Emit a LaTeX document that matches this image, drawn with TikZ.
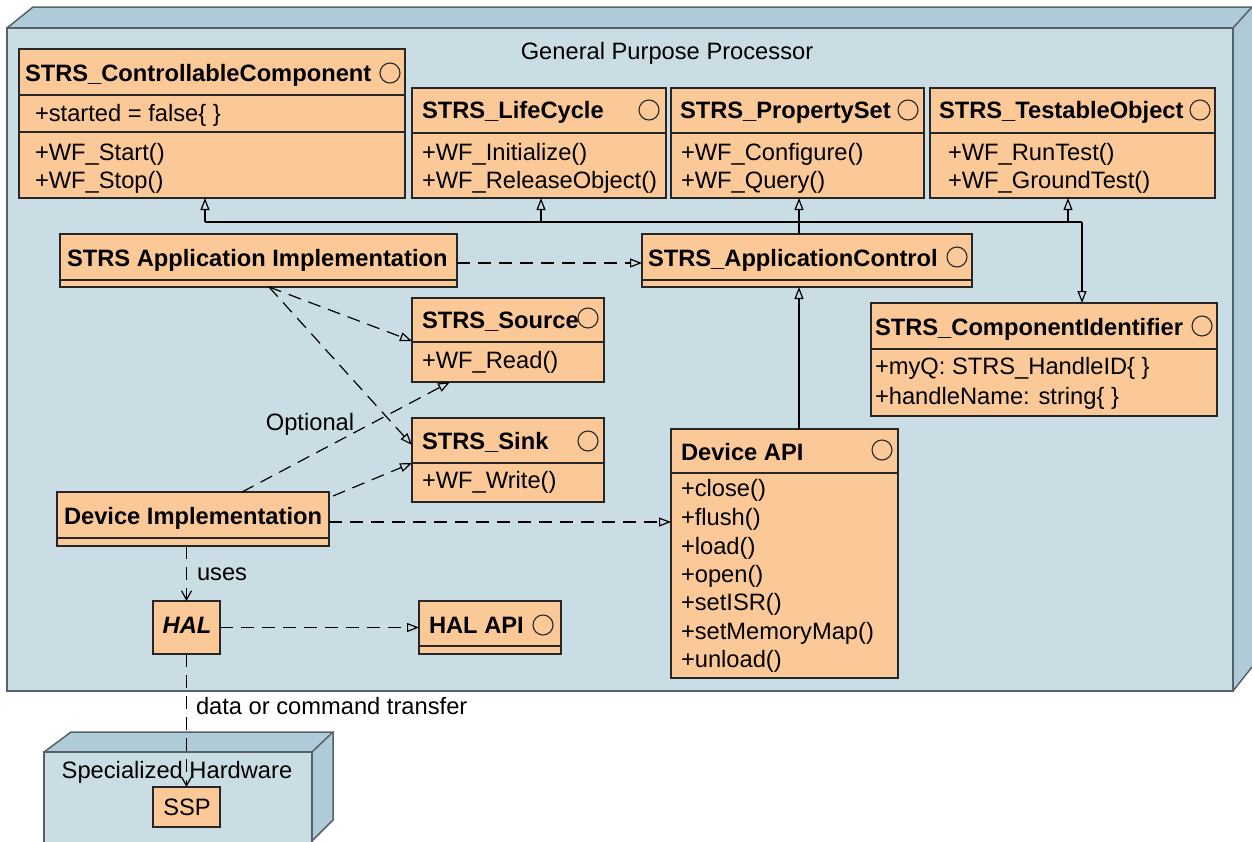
\documentclass[tikz,border=0pt]{standalone}
\usepackage{fontspec}
\setmainfont{Liberation Sans}
\usetikzlibrary{arrows.meta,calc}
\definecolor{peach}{HTML}{FBC998}
\definecolor{front}{HTML}{CADDE5}
\definecolor{side}{HTML}{AFCBD7}
\definecolor{edge}{HTML}{56626A}
\definecolor{ink}{HTML}{262626}
\begin{document}
\begin{tikzpicture}[x=1pt,y=-1pt,
  every node/.style={font=\fontsize{23.7}{28}\selectfont, inner sep=0pt, outer sep=0pt},
  cls/.style={draw=ink, fill=peach, line width=1.3pt, rectangle, anchor=north west},
  sepline/.style={draw=ink, line width=1.2pt},
  ttl/.style={anchor=base west, font=\fontsize{23.7}{28}\selectfont\bfseries},
  itm/.style={anchor=base west},
  ico/.style={circle, draw=ink, line width=1.1pt, minimum size=20pt},
  conn/.style={draw=black, line width=1.2pt},
  gen/.style={conn, -{Triangle[open,length=12pt,width=9pt]}},
  real/.style={gen, dash pattern=on 13pt off 8pt},
  dep/.style={conn, dash pattern=on 13pt off 8pt, -{Straight Barb[length=9pt,width=10pt]}},
  cont/.style={draw=edge, line width=1.5pt},
]
\useasboundingbox (0,0) rectangle (1252,841);
\clip (0,0) rectangle (1252,841);
% General Purpose Processor node
\fill[side] (7,28) -- (33,7) -- (1260,7) -- (1233,28) -- cycle;
\fill[side] (1233,28) -- (1252,7) -- (1260,7) -- (1260,660) -- (1252,667) -- (1233,691) -- cycle;
\draw[cont] (7,28) -- (33,7) -- (1260,7);
\draw[cont] (1233,28) -- (1252,7);
\draw[cont] (1233,691) -- (1252,667);
\filldraw[cont, fill=front] (7,28) rectangle (1233,691);
\node[anchor=base] (gpp) at (667,59) {General Purpose Processor};
% Specialized Hardware node
\fill[side] (44,752) -- (71,732) -- (333,732) -- (312,752) -- cycle;
\fill[side] (312,752) -- (333,732) -- (333,820) -- (312,841) -- cycle;
\draw[cont] (44,752) -- (71,732) -- (333,732) -- (312,752);
\draw[cont] (333,732) -- (333,820) -- (312,841);
\filldraw[cont, fill=front] (44,752) rectangle (312,860);
\node[anchor=base] (shw) at (177,778) {Specialized Hardware};

% STRS_ControllableComponent
\node[cls, minimum width=386pt, minimum height=149pt] (cc) at (19,49) {};
\draw[sepline] ($(cc.north west)+(0,46)$) -- ($(cc.north east)+(0,46)$);
\draw[sepline] ($(cc.north west)+(0,83)$) -- ($(cc.north east)+(0,83)$);
\node[ttl] (cc-t) at (25,81) {STRS\_ControllableComponent};
\node[ico] (cc-c) at (390,73) {};
\node[itm] (cc-a1) at (35,121) {+started = false\{ \}};
\node[itm] (cc-o1) at (35,160) {+WF\_Start()};
\node[itm] (cc-o2) at (35,188) {+WF\_Stop()};

% STRS_LifeCycle
\node[cls, minimum width=254pt, minimum height=110pt] (lc) at (412,88) {};
\draw[sepline] ($(lc.north west)+(0,45)$) -- ($(lc.north east)+(0,45)$);
\node[ttl] (lc-t) at (422,118) {STRS\_LifeCycle};
\node[ico] (lc-c) at (649,110) {};
\node[itm] (lc-o1) at (422,160) {+WF\_Initialize()};
\node[itm] (lc-o2) at (422,188) {+WF\_ReleaseObject()};

% STRS_PropertySet
\node[cls, minimum width=253pt, minimum height=110pt] (ps) at (671,88) {};
\draw[sepline] ($(ps.north west)+(0,45)$) -- ($(ps.north east)+(0,45)$);
\node[ttl] (ps-t) at (680,118) {STRS\_PropertySet};
\node[ico] (ps-c) at (908,110) {};
\node[itm] (ps-o1) at (681,160) {+WF\_Configure()};
\node[itm] (ps-o2) at (681,188) {+WF\_Query()};

% STRS_TestableObject
\node[cls, minimum width=285pt, minimum height=110pt] (to) at (930,88) {};
\draw[sepline] ($(to.north west)+(0,45)$) -- ($(to.north east)+(0,45)$);
\node[ttl] (to-t) at (939,118) {STRS\_TestableObject};
\node[ico] (to-c) at (1200,110) {};
\node[itm] (to-o1) at (948,160) {+WF\_RunTest()};
\node[itm] (to-o2) at (948,188) {+WF\_GroundTest()};

% STRS Application Implementation
\node[cls, minimum width=397pt, minimum height=53pt] (ai) at (60,234) {};
\draw[sepline] ($(ai.north west)+(0,46)$) -- ($(ai.north east)+(0,46)$);
\node[ttl] (ai-t) at (67,266) {STRS Application Implementation};

% STRS_ApplicationControl
\node[cls, minimum width=330pt, minimum height=53pt] (ac) at (642,234) {};
\draw[sepline] ($(ac.north west)+(0,46)$) -- ($(ac.north east)+(0,46)$);
\node[ttl] (ac-t) at (648,266) {STRS\_ApplicationControl};
\node[ico] (ac-c) at (957,257) {};

% STRS_Source
\node[cls, minimum width=192pt, minimum height=84pt] (src) at (412,298) {};
\draw[sepline] ($(src.north west)+(0,44)$) -- ($(src.north east)+(0,44)$);
\node[ttl] (src-t) at (422,328) {STRS\_Source};
\node[ico] (src-c) at (588,318) {};
\node[itm] (src-o1) at (422,368) {+WF\_Read()};

% STRS_Sink
\node[cls, minimum width=192pt, minimum height=84pt] (sink) at (412,418) {};
\draw[sepline] ($(sink.north west)+(0,45)$) -- ($(sink.north east)+(0,45)$);
\node[ttl] (sink-t) at (422,449) {STRS\_Sink};
\node[ico] (sink-c) at (588,441) {};
\node[itm] (sink-o1) at (422,488) {+WF\_Write()};

% STRS_ComponentIdentifier
\node[cls, minimum width=346pt, minimum height=113pt] (ci) at (871,303) {};
\draw[sepline] ($(ci.north west)+(0,46)$) -- ($(ci.north east)+(0,46)$);
\node[ttl] (ci-t) at (875,335) {STRS\_ComponentIdentifier};
\node[ico] (ci-c) at (1202,326) {};
\node[itm] (ci-a1) at (875,374) {+myQ: STRS\_HandleID\{ \}};
\node[itm] (ci-a2) at (875,404) {+handleName: string\{ \}};

% Device API
\node[cls, minimum width=227pt, minimum height=249pt] (dapi) at (671,429) {};
\draw[sepline] ($(dapi.north west)+(0,44)$) -- ($(dapi.north east)+(0,44)$);
\node[ttl] (dapi-t) at (681,460) {Device API};
\node[ico] (dapi-c) at (882,450) {};
\node[itm] (dapi-o1) at (681,496) {+close()};
\node[itm] (dapi-o2) at (681,525) {+flush()};
\node[itm] (dapi-o3) at (681,554) {+load()};
\node[itm] (dapi-o4) at (681,582) {+open()};
\node[itm] (dapi-o5) at (681,610) {+setISR()};
\node[itm] (dapi-o6) at (681,639) {+setMemoryMap()};
\node[itm] (dapi-o7) at (681,667) {+unload()};

% Device Implementation
\node[cls, minimum width=272pt, minimum height=54pt] (di) at (57,492) {};
\draw[sepline] ($(di.north west)+(0,46)$) -- ($(di.north east)+(0,46)$);
\node[ttl] (di-t) at (64,524) {Device Implementation};

% HAL
\node[cls, minimum width=67pt, minimum height=53pt] (hal) at (153,601) {};
\node[anchor=base, font=\fontsize{23.7}{28}\selectfont\bfseries\itshape] (hal-t) at (187,633) {HAL};

% HAL API
\node[cls, minimum width=142pt, minimum height=53pt] (halapi) at (419,601) {};
\draw[sepline] ($(halapi.north west)+(0,45)$) -- ($(halapi.north east)+(0,45)$);
\node[ttl] (halapi-t) at (429,633) {HAL API};
\node[ico] (halapi-c) at (543,625) {};

% SSP
\node[cls, minimum width=67pt, minimum height=40pt] (ssp) at (153,787) {};
\node[anchor=base] (ssp-t) at (187,815) {SSP};

% ---- connectors ----
\coordinate (busL) at ($(cc.south west)+(186,24)$);
\coordinate (busR) at ($(ci.north west)+(211,-81)$);
\draw[conn] (busL) -- (busR);
\draw[gen] (busR) -- (busR |- ci.north);
\draw[gen] (busL) -- (busL |- cc.south);
\coordinate (lcx) at ($(lc.south west)+(129,0)$);
\draw[gen] (lcx |- busL) -- (lcx);
\coordinate (tox) at ($(to.south west)+(138,0)$);
\draw[gen] (tox |- busL) -- (tox);
\draw[gen] ($(ac.north west)+(157,0)$) -- ($(ps.south west)+(128,0)$);
\draw[gen] ($(dapi.north west)+(128,0)$) -- ($(ac.south west)+(157,0)$);
\draw[real] ($(ai.north east)+(0,29)$) -- ($(ac.north west)+(0,29)$);
\coordinate (aib) at ($(ai.south west)+(209,0)$);
\draw[real] (aib) -- ($(src.north west)+(0,43)$);
\draw[real] (aib) -- ($(sink.north west)+(0,27)$);
\draw[real] ($(di.north west)+(185,0)$) -- ($(src.south west)+(38,0)$);
\draw[real] ($(di.north east)+(4,4)$) -- ($(sink.north west)+(0,45)$);
\draw[real] ($(di.north east)+(0,30)$) -- ($(dapi.north west)+(0,93)$);
\draw[dep] (hal.north |- di.south) -- (hal.north);
\draw[real] (hal.east) -- (hal.east -| halapi.west);
\draw[dep] (hal.south) -- (ssp.north);

% ---- labels ----
\node[anchor=base] (opt) at (310,430) {Optional};
\node[anchor=base west] (uses) at (197,580) {uses};
\node[anchor=base west] (dct) at (196,714) {data or command transfer};
\end{tikzpicture}
\end{document}
